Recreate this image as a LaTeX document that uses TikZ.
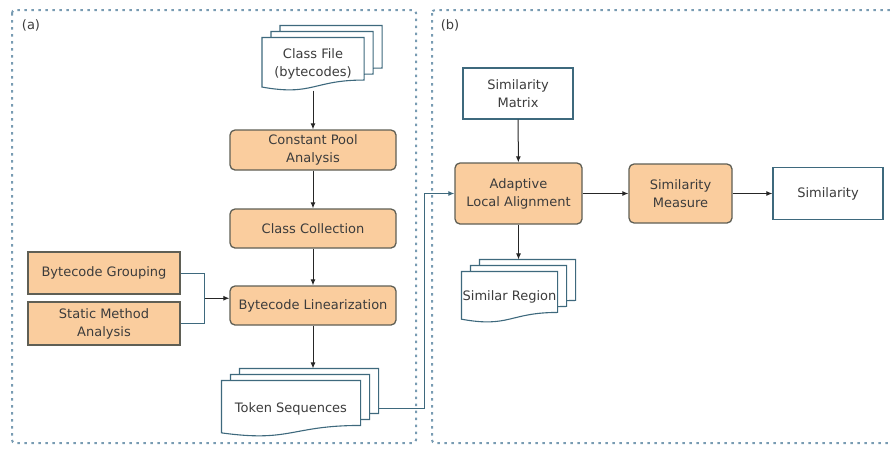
\documentclass[tikz,border=0pt]{standalone}
\usepackage{fontspec}
\setmainfont{DejaVu Sans}
\usepackage{tikz}
\usetikzlibrary{arrows.meta, shadows, calc}

\definecolor{boxfill}{RGB}{250,205,158}
\definecolor{boxline}{RGB}{95,95,85}
\definecolor{docline}{RGB}{62,105,125}
\definecolor{frameline}{RGB}{120,155,178}
\definecolor{textgray}{RGB}{60,60,60}

% page with a wavy lower edge (flowchart "document")
\makeatletter
\pgfdeclareshape{docpage}{
  \inheritsavedanchors[from=rectangle]
  \inheritanchorborder[from=rectangle]
  \inheritanchor[from=rectangle]{center}
  \inheritanchor[from=rectangle]{text}
  \inheritanchor[from=rectangle]{base}
  \inheritanchor[from=rectangle]{mid}
  \inheritanchor[from=rectangle]{north}
  \inheritanchor[from=rectangle]{south}
  \inheritanchor[from=rectangle]{east}
  \inheritanchor[from=rectangle]{west}
  \inheritanchor[from=rectangle]{north east}
  \inheritanchor[from=rectangle]{north west}
  \inheritanchor[from=rectangle]{south east}
  \inheritanchor[from=rectangle]{south west}
  \backgroundpath{
    \southwest \edef\doc@l{\the\pgf@x}\edef\doc@b{\the\pgf@y}
    \northeast \edef\doc@r{\the\pgf@x}\edef\doc@t{\the\pgf@y}
    \pgf@xa=\doc@l\relax \pgf@xb=\doc@r\relax
    \pgf@xc=.5\pgf@xa \advance\pgf@xc by .5\pgf@xb \edef\doc@m{\the\pgf@xc}
    \pgf@ya=\doc@b\relax \pgf@yb=\doc@t\relax
    \pgf@yc=\pgf@yb \advance\pgf@yc by -\pgf@ya
    \pgf@x=.198\pgf@yc \advance\pgf@x by \pgf@ya \edef\doc@rb{\the\pgf@x}
    \pgf@x=-.107\pgf@yc \advance\pgf@x by \pgf@ya \edef\doc@c{\the\pgf@x}
    \pgf@x=.066\pgf@yc \advance\pgf@x by \pgf@ya \edef\doc@lb{\the\pgf@x}
    \pgfpathmoveto{\pgfqpoint{\doc@l}{\doc@t}}
    \pgfpathlineto{\pgfqpoint{\doc@r}{\doc@t}}
    \pgfpathlineto{\pgfqpoint{\doc@r}{\doc@rb}}
    \pgfpathcurveto{\pgfqpoint{\doc@m}{\doc@rb}}{\pgfqpoint{\doc@m}{\doc@c}}{\pgfqpoint{\doc@l}{\doc@lb}}
    \pgfpathclose
  }
}
\makeatother

\tikzstyle{procbox}=[draw=boxline, fill=boxfill, line width=1.3pt, rounded corners=5pt, align=center]
\tikzstyle{inbox}=[draw=boxline, fill=boxfill, line width=1.3pt, align=center]
\tikzstyle{databox}=[draw=docline, fill=white, line width=1.3pt, align=center]
\tikzstyle{docs}=[shape=docpage, draw=docline, fill=white, line width=1.1pt, align=center, inner sep=0pt,
  copy shadow={shadow xshift=18pt, shadow yshift=12pt, draw=docline, line width=1.1pt},
  copy shadow={shadow xshift=9pt, shadow yshift=6pt, draw=docline, line width=1.1pt}]
\tikzstyle{panel}=[draw=frameline, line width=2pt, dash pattern=on 2.5pt off 4.5pt, rounded corners=3pt]
\tikzstyle{arrow}=[draw=black!85, line width=1pt, ->, >={Latex[length=6pt, width=5pt]}]
\tikzstyle{link}=[draw=docline, line width=1pt, >={Latex[length=6pt, width=5pt]}]

\begin{document}
\begin{tikzpicture}[x=1pt, y=-1pt, every node/.style={font=\fontsize{13}{18}\selectfont, text=textgray}]
    \useasboundingbox (0,0) rectangle (890,448);
    \draw[panel] (12,10) rectangle (416,443);
    \draw[panel] (432,10) rectangle (900,443);
    \begin{scope}
        \node (lbla) at (31,25) {(a)};
        \node (lblb) at (450,25) {(b)};
        \node[docs, minimum width=101pt, minimum height=52pt] (cf) at (313,64) {Class File\\(bytecodes)};
        \node[procbox, minimum width=166pt, minimum height=40pt] (cpa) at (313,150) {Constant Pool\\Analysis};
        \node[procbox, minimum width=166pt, minimum height=39pt] (cc) at (313,228.5) {Class Collection};
        \node[procbox, minimum width=166pt, minimum height=39pt] (lin) at (313,305.5) {Bytecode Linearization};
        \node[inbox, minimum width=152pt, minimum height=42pt] (grp) at (104,273) {Bytecode Grouping};
        \node[inbox, minimum width=152pt, minimum height=43pt] (sma) at (104,323.5) {Static Method\\Analysis};
        \node[docs, minimum width=138pt, minimum height=55pt] (tok) at (291,408.5) {Token Sequences};
        \node[databox, minimum width=110pt, minimum height=51pt] (mat) at (518,93.5) {Similarity\\Matrix};
        \node[procbox, minimum width=127pt, minimum height=61pt] (ala) at (518.5,193.5) {Adaptive\\Local Alignment};
        \node[procbox, minimum width=103pt, minimum height=59pt] (smz) at (680.5,193.5) {Similarity\\Measure};
        \node[databox, minimum width=110pt, minimum height=52pt] (sim) at (828,193.5) {Similarity};
        \node[docs, minimum width=95pt, minimum height=50pt] (sr) at (509.5,297) {Similar Region};
    \end{scope}
    \begin{scope}
        \draw[arrow] (cf) -- (cpa);
        \draw[arrow] (cpa) -- (cc);
        \draw[arrow] (cc) -- (lin);
        \draw[arrow] (lin.south) -- ($(lin.south |- tok.north)+(0,-12)$);
        \draw[link] (grp.east) -- ++(24,0) |- (sma.east);
        \coordinate (mrg) at ($(grp.east)!.5!(sma.east)+(24,0)$);
        \draw[arrow] (mrg) -- (mrg -| lin.west);
        \draw[link, ->] ($(tok.east)+(18,0)$) -- ++(46,0) |- (ala.west);
        \draw[arrow] (mat) -- (ala);
        \draw[arrow] (ala) -- (smz);
        \draw[arrow] (smz) -- (sim);
        \draw[arrow] (ala.south) -- ($(ala.south |- sr.north)+(0,-12)$);
    \end{scope}
\end{tikzpicture}
\end{document}
